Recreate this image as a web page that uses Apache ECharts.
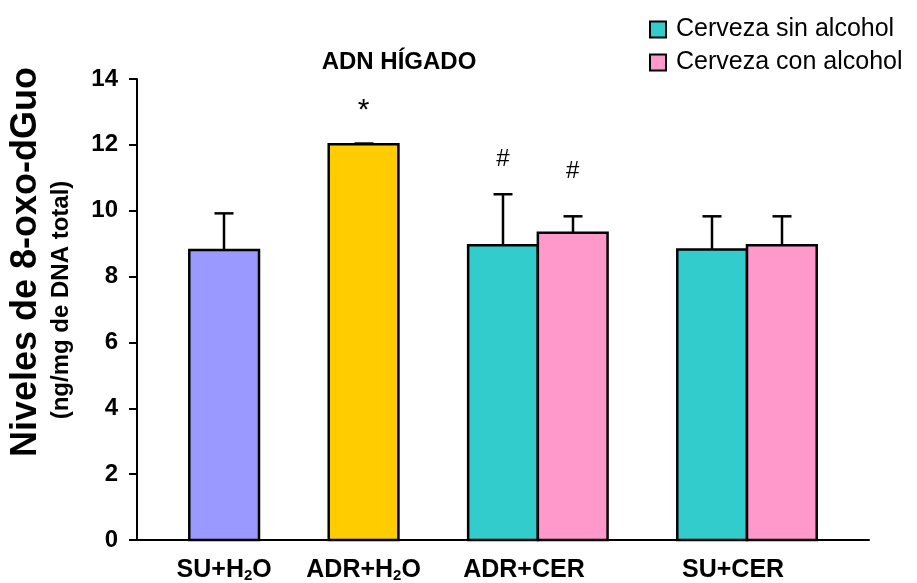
<!DOCTYPE html>
<html><head><meta charset="utf-8">
<script src="https://cdn.jsdelivr.net/npm/echarts@6/dist/echarts.min.js"></script>
<style>html,body{margin:0;padding:0;background:#fff}#c{width:917px;height:583px}</style>
</head><body><div id="c"></div>
<script>
// ---------- data ----------
const categories = ['SU+H2O', 'ADR+H2O', 'ADR+CER', 'SU+CER'];
const controlValues = [8.81, 12.02];      // SU+H2O, ADR+H2O
const controlErrTop = [9.92, 12.04];
const sinAlcoholValues = [8.95, 8.82];    // ADR+CER, SU+CER
const sinAlcoholErrTop = [10.50, 9.83];
const conAlcoholValues = [9.33, 8.95];    // ADR+CER, SU+CER
const conAlcoholErrTop = [9.83, 9.83];
const sigMarks = ['*', '#', '#'];
const sigMarkLevels = [13.05, 11.57, 11.19];
const yTicks = [0, 2, 4, 6, 8, 10, 12, 14];
const seriesNames = ['Cerveza sin alcohol', 'Cerveza con alcohol'];
const titleText = 'ADN HÍGADO';
const yTitle1 = 'Niveles de 8-oxo-dGuo';
const yTitle2 = '(ng/mg de DNA total)';

// ---------- layout (not data) ----------
const groupSizes = [1, 1, 2, 2];
const groupStart = [];
(function(){ let s = 0; groupSizes.forEach(n => { groupStart.push(s); s += n + 1; }); })();
const labelShift = [0, 0, -0.2, -0.2];
const labelPos = groupStart.map((g, i) => g + groupSizes[i] / 2 + labelShift[i]);
const controlColors = ['#9999FF', '#FFCC00'];
const sinColor = '#33CCCC', conColor = '#FF99CC';

const controlData = controlValues.map((v, i) => [groupStart[i], v, controlErrTop[i]]);
const sinData = sinAlcoholValues.map((v, i) => [groupStart[i + 2], v, sinAlcoholErrTop[i]]);
const conData = conAlcoholValues.map((v, i) => [groupStart[i + 2] + 1, v, conAlcoholErrTop[i]]);
const markSlots = [groupStart[1], groupStart[2], groupStart[2] + 1];
const markData = sigMarks.map((m, i) => [markSlots[i] + 0.5, sigMarkLevels[i], i]);

function makeBarRenderer(colorFn) {
  return function (params, api) {
    const x = api.value(0), v = api.value(1), e = api.value(2);
    const p0 = api.coord([x, 0]);
    const p1 = api.coord([x + 1, v]);
    const pe = api.coord([x + 0.5, e]);
    const cx = Math.round(pe[0]);
    return {
      type: 'group',
      children: [
        { type: 'line', shape: { x1: cx, y1: p1[1], x2: cx, y2: pe[1] }, style: { stroke: '#000', lineWidth: 2.5 } },
        { type: 'line', shape: { x1: cx - 9.5, y1: pe[1], x2: cx + 9.5, y2: pe[1] }, style: { stroke: '#000', lineWidth: 2.5 } },
        { type: 'rect', shape: { x: p0[0], y: p1[1], width: p1[0] - p0[0], height: p0[1] - p1[1] },
          style: { fill: colorFn(params.dataIndex), stroke: '#000', lineWidth: 2.5 } }
      ]
    };
  };
}

function labelFormatter(value) {
  let idx = 0, best = 1e9;
  labelPos.forEach((p, i) => { if (Math.abs(p - value) < best) { best = Math.abs(p - value); idx = i; } });
  return categories[idx].replace('H2O', 'H{sub|2}O');
}

const chart = echarts.init(document.getElementById('c'), null, { renderer: 'canvas' });
const FONT = 'Liberation Sans, Arial, sans-serif';
chart.setOption({
  animation: false,
  backgroundColor: '#fff',
  textStyle: { fontFamily: FONT },
  title: {
    text: titleText, left: 394, top: 45, textAlign: 'center',
    textStyle: { fontFamily: FONT, fontSize: 24, fontWeight: 'bold', color: '#000' }
  },
  legend: {
    orient: 'vertical', left: 644, top: 12, itemWidth: 16, itemHeight: 16, itemGap: 8,
    icon: 'rect',
    textStyle: { fontFamily: FONT, fontSize: 25, color: '#000', padding: [0, 0, 0, 5] },
    data: [
      { name: seriesNames[0], itemStyle: { color: sinColor, borderColor: '#000', borderWidth: 2 } },
      { name: seriesNames[1], itemStyle: { color: conColor, borderColor: '#000', borderWidth: 2 } }
    ]
  },
  grid: { left: 137, right: 48, top: 79, bottom: 43, containLabel: false },
  xAxis: {
    type: 'value', min: -0.75, max: 9.75,
    splitLine: { show: false },
    axisLine: { show: true, onZero: false, lineStyle: { color: '#000', width: 2 } },
    axisTick: { show: false },
    axisLabel: {
      customValues: labelPos, formatter: labelFormatter, margin: 18,
      fontFamily: FONT, fontSize: 25, fontWeight: 'bold', color: '#000', lineHeight: 25,
      rich: { sub: { fontFamily: FONT, fontSize: 15, fontWeight: 'bold', color: '#000', lineHeight: 13, verticalAlign: 'bottom' } }
    }
  },
  yAxis: {
    type: 'value', min: yTicks[0], max: yTicks[yTicks.length - 1], interval: 2,
    splitLine: { show: false },
    axisLine: { show: true, onZero: false, lineStyle: { color: '#000', width: 2 } },
    axisTick: { show: true, length: 8, lineStyle: { color: '#000', width: 2 } },
    axisLabel: { margin: 19, fontFamily: FONT, fontSize: 24, fontWeight: 'bold', color: '#000' }
  },
  graphic: [
    { type: 'text', x: 26, y: 262, rotation: Math.PI / 2,
      style: { text: yTitle1, fontFamily: FONT, fontSize: 36, fontWeight: 'bold', fill: '#000', align: 'center', verticalAlign: 'middle' } },
    { type: 'text', x: 61, y: 300, rotation: Math.PI / 2,
      style: { text: yTitle2, fontFamily: FONT, fontSize: 24, fontWeight: 'bold', fill: '#000', align: 'center', verticalAlign: 'middle' } }
  ],
  series: [
    { type: 'custom', name: 'control', data: controlData, renderItem: makeBarRenderer(i => controlColors[i]), clip: false, encode: { x: 0, y: [1, 2] } },
    { type: 'custom', name: seriesNames[0], data: sinData, itemStyle: { color: sinColor }, renderItem: makeBarRenderer(() => sinColor), clip: false, encode: { x: 0, y: [1, 2] } },
    { type: 'custom', name: seriesNames[1], data: conData, itemStyle: { color: conColor }, renderItem: makeBarRenderer(() => conColor), clip: false, encode: { x: 0, y: [1, 2] } },
    { type: 'custom', name: 'marks', data: markData, clip: false, encode: { x: 0, y: 1 },
      renderItem: function (params, api) {
        const p = api.coord([api.value(0), api.value(1)]);
        const m = sigMarks[api.value(2)];
        return { type: 'text', x: p[0], y: p[1],
          style: { text: m, fontFamily: FONT, fontSize: m === '*' ? 30 : 24, fill: '#000', align: 'center', verticalAlign: 'middle' } };
      } }
  ]
});
</script></body></html>
